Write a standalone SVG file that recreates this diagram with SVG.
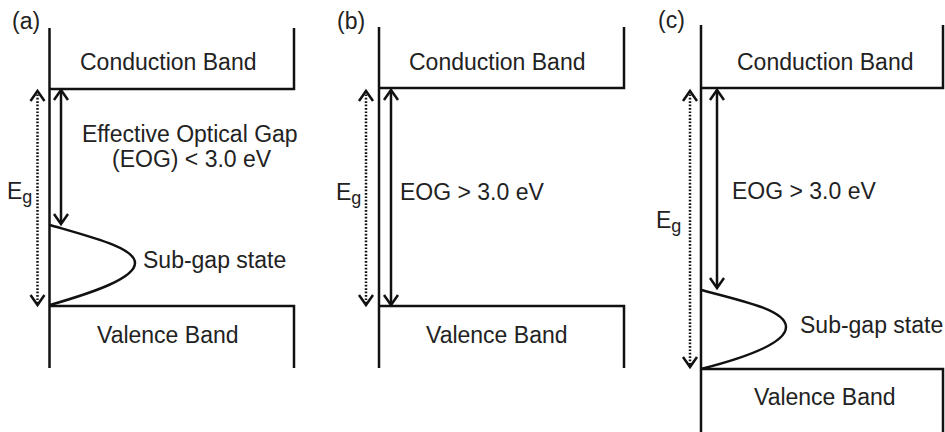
<svg xmlns="http://www.w3.org/2000/svg" width="945" height="432" viewBox="0 0 945 432">
<style>
  .ln{fill:none;stroke:#111;stroke-width:2.5;stroke-linecap:butt;stroke-linejoin:miter}
  .t{font-family:"Liberation Sans",Arial,sans-serif;font-size:23px;fill:#222}
  .sub{font-size:18px}
  .solid{fill:none;stroke:#111;stroke-width:2.5;marker-start:url(#chev);marker-end:url(#chev)}
  .dot{fill:none;stroke:#111;stroke-width:2.5;stroke-dasharray:1.7 1.7;marker-start:url(#chev);marker-end:url(#chev)}
</style>
<defs>
  <marker id="chev" markerUnits="userSpaceOnUse" markerWidth="24" markerHeight="24" viewBox="-12 -12 24 24" refX="0" refY="0" orient="auto-start-reverse" overflow="visible">
    <path d="M-10,-7 L0,0 L-10,7" fill="none" stroke="#111" stroke-width="2.5"/>
  </marker>
</defs>
<rect width="945" height="432" fill="#fff"/>

<!-- Panel (a) -->
<g id="panel-a">
  <text class="t" x="12" y="29">(a)</text>
  <path class="ln" d="M49.5,28 V368"/>
  <g id="a-conduction">
    <path class="ln" d="M49.5,89 H294 V28"/>
    <text class="t" x="80" y="70">Conduction Band</text>
  </g>
  <g id="a-valence">
    <path class="ln" d="M49.5,306 H294 V368"/>
    <text class="t" x="97" y="343">Valence Band</text>
  </g>
  <g id="a-subgap">
    <path class="ln" d="M50,225 C95,238 135,248 135,263 C135,278 95,292 50,305"/>
    <text class="t" x="143" y="268">Sub-gap state</text>
  </g>
  <g id="a-eog-label">
    <text class="t" x="82" y="142">Effective Optical Gap</text>
    <text class="t" x="112" y="167">(EOG) &lt; 3.0 eV</text>
  </g>
  <g id="a-eg-label">
    <text class="t" x="7" y="199">E<tspan class="sub" dy="4">g</tspan></text>
  </g>
</g>

<!-- Panel (b) -->
<g id="panel-b">
  <text class="t" x="337" y="29">(b)</text>
  <path class="ln" d="M379,27 V368"/>
  <g id="b-conduction">
    <path class="ln" d="M379,88 H624 V27"/>
    <text class="t" x="409" y="70">Conduction Band</text>
  </g>
  <g id="b-valence">
    <path class="ln" d="M379,306 H624 V368"/>
    <text class="t" x="426" y="343">Valence Band</text>
  </g>
  <g id="b-eog-label">
    <text class="t" x="400" y="200">EOG &gt; 3.0 eV</text>
  </g>
  <g id="b-eg-label">
    <text class="t" x="336" y="200">E<tspan class="sub" dy="4">g</tspan></text>
  </g>
</g>

<!-- Panel (c) -->
<g id="panel-c">
  <text class="t" x="658" y="28">(c)</text>
  <path class="ln" d="M701,25 V432"/>
  <g id="c-conduction">
    <path class="ln" d="M701,88 H943 V25"/>
    <text class="t" x="737" y="70">Conduction Band</text>
  </g>
  <g id="c-valence">
    <path class="ln" d="M701,369 H943 V432"/>
    <text class="t" x="754" y="405">Valence Band</text>
  </g>
  <g id="c-subgap">
    <path class="ln" d="M701,290 C748,302 786,311 786,327 C786,343 748,357 701,369"/>
    <text class="t" x="800" y="333">Sub-gap state</text>
  </g>
  <g id="c-eog-label">
    <text class="t" x="732" y="199">EOG &gt; 3.0 eV</text>
  </g>
  <g id="c-eg-label">
    <text class="t" x="656" y="228">E<tspan class="sub" dy="4">g</tspan></text>
  </g>
</g>

<!-- Connectors -->
<g id="connectors">
  <path class="dot" d="M37.5,91 V305"/>
  <path class="solid" d="M61,90 V224"/>
  <path class="dot" d="M366,91 V305"/>
  <path class="solid" d="M391,90 V305"/>
  <path class="dot" d="M690,91 V367"/>
  <path class="solid" d="M717,90 V288"/>
</g>
</svg>
